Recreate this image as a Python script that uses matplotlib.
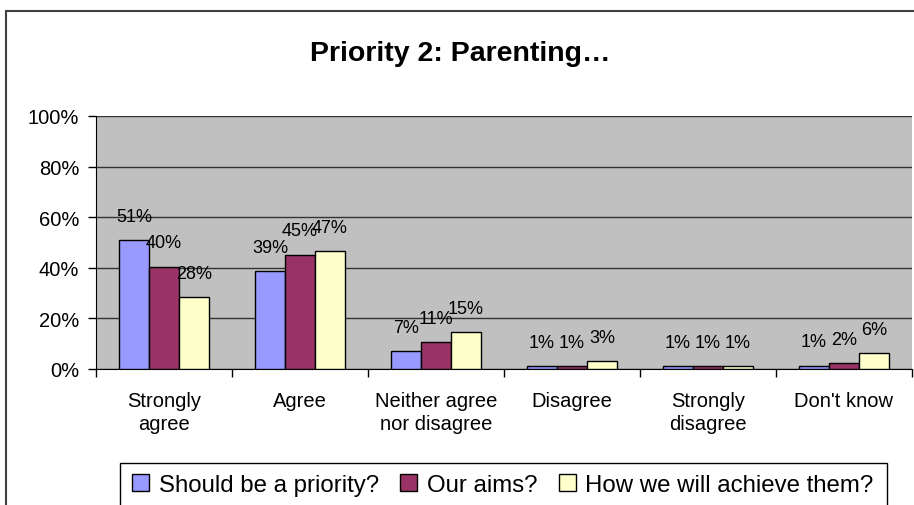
import numpy as np
import matplotlib.pyplot as plt
from matplotlib.patches import Rectangle

plt.rcParams['font.family'] = ['Liberation Sans', 'DejaVu Sans']

categories = ['Strongly\nagree', 'Agree', 'Neither agree\nnor disagree',
              'Disagree', 'Strongly\ndisagree', "Don't know"]
series_names = ['Should be a priority?', 'Our aims?', 'How we will achieve them?']
priority = [0.51, 0.388, 0.07, 0.012, 0.012, 0.013]
aims = [0.405, 0.452, 0.107, 0.012, 0.012, 0.022]
achieve = [0.284, 0.465, 0.147, 0.03, 0.012, 0.062]
priority_lbl = [51, 39, 7, 1, 1, 1]
aims_lbl = [40, 45, 11, 1, 1, 2]
achieve_lbl = [28, 47, 15, 3, 1, 6]
colors = ['#9999FF', '#993366', '#FFFFCC']
yticks = [0, 0.2, 0.4, 0.6, 0.8, 1.0]

W, H = 914, 506
fig = plt.figure(figsize=(W / 100, H / 100), dpi=100)
ax = fig.add_axes([96 / W, 1 - 370 / H, 816 / W, 253 / H])
ax.set_facecolor('#C0C0C0')

x = np.arange(len(categories))
bw = 0.22
for i, (vals, lbls) in enumerate(zip([priority, aims, achieve],
                                     [priority_lbl, aims_lbl, achieve_lbl])):
    pos = x + (i - 1) * bw
    ax.bar(pos, vals, bw, color=colors[i], edgecolor='black', linewidth=1,
           label=series_names[i], zorder=3)
    for p, v, l in zip(pos, vals, lbls):
        ax.annotate(f'{l}%', (p, v), xytext=(0, 11), textcoords='offset points',
                    ha='center', va='bottom', fontsize=13, zorder=4)

ax.set_xlim(-0.5, len(categories) - 0.5)
ax.set_ylim(0, 1)
ax.set_yticks(yticks)
ax.set_yticklabels([f'{int(t * 100)}%' for t in yticks], fontsize=14.5)
ax.yaxis.grid(True, color='#333333', linewidth=1, zorder=0)
ax.set_axisbelow(True)
ax.tick_params(axis='y', direction='out', length=6, width=1, pad=6)

# ticks sit between categories, labels in the middle
ax.set_xticks(np.arange(len(categories) + 1) - 0.5)
ax.set_xticklabels([])
ax.set_xticks(x, minor=True)
ax.set_xticklabels(categories, minor=True, fontsize=14.5, linespacing=1.25)
ax.tick_params(axis='x', which='major', direction='out', length=6, width=1)
ax.tick_params(axis='x', which='minor', length=0, pad=16)

for s in ['top', 'right']:
    ax.spines[s].set_visible(False)
ax.spines['left'].set_color('black')
ax.spines['bottom'].set_color('black')

fig.text(460 / W, 1 - 54 / H, 'Priority 2: Parenting…', ha='center', va='center',
         fontsize=20.5, fontweight='bold')

# outer chart frame and legend box (both run past the image edge)
fig.patches.append(Rectangle((6 / W, -0.1), 1.2, 1 - 12 / H + 0.1,
                             transform=fig.transFigure, fill=False,
                             edgecolor='#404040', linewidth=1.5))
fig.patches.append(Rectangle((120 / W, -0.1), 767 / W, 1 - 464 / H + 0.1,
                             transform=fig.transFigure, fill=False,
                             edgecolor='black', linewidth=1))

ax.legend(loc='center', bbox_to_anchor=(503 / W, 1 - 486 / H),
          bbox_transform=fig.transFigure, ncol=3, frameon=False, fontsize=17.3,
          handlelength=0.7, handleheight=0.7, handletextpad=0.4,
          columnspacing=0.9, borderpad=0)

fig.savefig('out.png', dpi=100)
